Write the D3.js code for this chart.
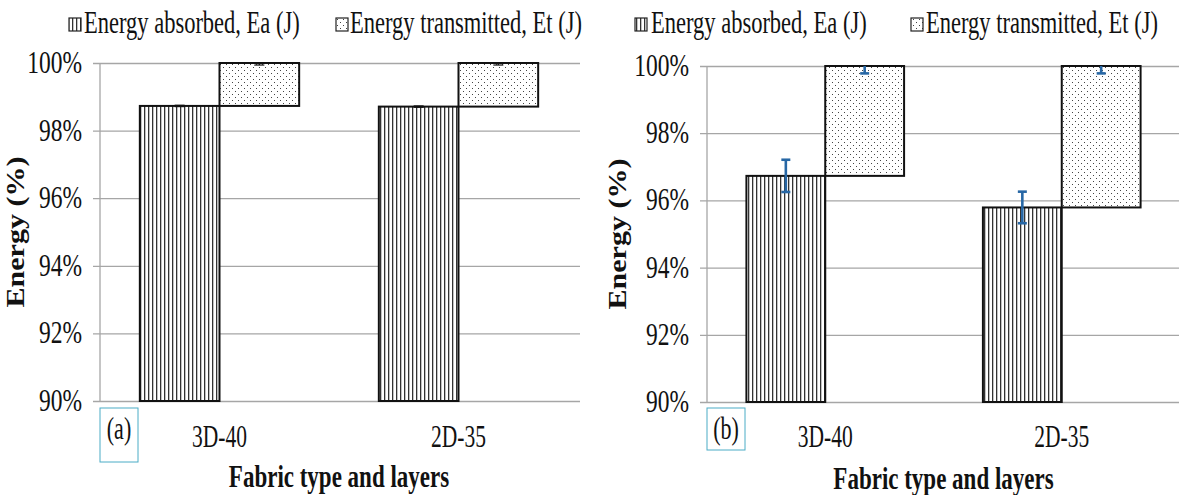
<!DOCTYPE html>
<html>
<head>
<meta charset="utf-8">
<script src="https://cdn.jsdelivr.net/npm/d3@7"></script>
<style>
  body { margin: 0; background: #fff; }
  svg { display: block; }
</style>
</head>
<body>
<svg id="chart" width="1179" height="495"></svg>
<script>
// ---- data ----
const categories = ["3D-40", "2D-35"];
const seriesNames = ["Energy absorbed, Ea (J)", "Energy transmitted, Et (J)"];
const yTickValues = [90, 92, 94, 96, 98, 100];
const xTitle = "Fabric type and layers";
const yTitle = "Energy (%)";

// panel (a)
const absorbedA = [98.73, 98.71];
const transmittedA = [1.27, 1.29];
const absorbedErrA = [0.02, 0.02];
const transmittedErrA = [0.06, 0.06];

// panel (b)
const absorbedB = [96.73, 95.79];
const transmittedB = [3.27, 4.21];
const absorbedErrB = [0.48, 0.47];
const transmittedErrB = [0.22, 0.22];

const SERIF = "'Liberation Serif', 'DejaVu Serif', serif";

const svg = d3.select("#chart");
const defs = svg.append("defs");

// vertical hatch for absorbed energy
const stripes = defs.append("pattern").attr("id", "stripes")
  .attr("patternUnits", "userSpaceOnUse").attr("width", 4).attr("height", 4);
stripes.append("rect").attr("width", 4).attr("height", 4).attr("fill", "#fff");
stripes.append("rect").attr("x", 0).attr("width", 1.3).attr("height", 4).attr("fill", "#333");

// fine dots for transmitted energy
const dots = defs.append("pattern").attr("id", "dots")
  .attr("patternUnits", "userSpaceOnUse").attr("width", 6).attr("height", 6);
dots.append("rect").attr("width", 6).attr("height", 6).attr("fill", "#fff");
dots.append("rect").attr("x", 1).attr("y", 1).attr("width", 1).attr("height", 1).attr("fill", "#444");
dots.append("rect").attr("x", 4).attr("y", 4).attr("width", 1).attr("height", 1).attr("fill", "#444");

const fills = ["url(#stripes)", "url(#dots)"];

// text stretched vertically (serif text in this figure is tall and narrow)
function tallText(g, x, y, str, o) {
  return g.append("text")
    .attr("transform", `translate(${x},${y}) scale(1,${o.sy || 1})` + (o.rotate ? ` rotate(${o.rotate})` : ""))
    .attr("text-anchor", o.anchor || "start")
    .attr("font-family", SERIF)
    .attr("font-size", o.size)
    .attr("font-weight", o.weight || "normal")
    .attr("fill", "#111")
    .text(str);
}

const panels = [
  {
    label: "(a)", absorbed: absorbedA, transmitted: transmittedA,
    absErr: absorbedErrA, trErr: transmittedErrA,
    x0: 100, x1: 578, gridRight: 580, yBottom: 401, yTop: 63,
    errColor: "#111", errWidth: 1.2, cap: 10,
    legend: [{ ix: 69, tx: 84 }, { ix: 336, tx: 350 }], legendY: 33,
    box: [100, 408, 38, 54], titleY: 487, yTitleX: 24
  },
  {
    label: "(b)", absorbed: absorbedB, transmitted: transmittedB,
    absErr: absorbedErrB, trErr: transmittedErrB,
    x0: 707, x1: 1180, gridRight: 1179, yBottom: 402, yTop: 66,
    errColor: "#2767a5", errWidth: 2.6, cap: 9,
    legend: [{ ix: 635, tx: 651 }, { ix: 911, tx: 926 }], legendY: 33,
    box: [707, 408, 38, 42], titleY: 489, yTitleX: 626
  }
];

panels.forEach(p => {
  const g = svg.append("g");
  const y = d3.scaleLinear().domain([90, 100]).range([p.yBottom, p.yTop]);
  const x = d3.scaleBand().domain(categories).range([p.x0, p.x1])
    .paddingInner(1 / 3).paddingOuter(1 / 6);
  const xs = d3.scaleBand().domain(seriesNames).range([0, x.bandwidth()]);

  // gridlines with outside tick marks
  const yAxis = d3.axisLeft(y).tickValues(yTickValues)
    .tickSize(-(p.gridRight - p.x0)).tickFormat(d => d + "%");
  const ag = g.append("g").attr("transform", `translate(${p.x0},0)`).call(yAxis);
  ag.select(".domain").remove();
  ag.selectAll(".tick line").attr("stroke", "#a6a6a6").attr("stroke-width", 1.3)
    .attr("x1", -7);
  ag.selectAll(".tick text").remove();
  // y axis line
  g.append("line").attr("x1", p.x0).attr("x2", p.x0)
    .attr("y1", y(100)).attr("y2", y(90))
    .attr("stroke", "#a6a6a6").attr("stroke-width", 1.3);

  // tick labels
  yTickValues.forEach(v => {
    tallText(g, p.x0 - 18, y(v) + 10, v + "%", { size: 23.5, sy: 1.35, anchor: "end" });
  });

  // bars
  categories.forEach((c, i) => {
    const ea = p.absorbed[i], et = p.transmitted[i];
    const segs = [[90, ea], [ea, ea + et]];
    segs.forEach((s, k) => {
      g.append("rect")
        .attr("x", x(c) + xs(seriesNames[k]))
        .attr("y", y(s[1]))
        .attr("width", xs.bandwidth())
        .attr("height", y(s[0]) - y(s[1]))
        .attr("fill", fills[k])
        .attr("stroke", "#111").attr("stroke-width", 2);
    });
  });

  // error bars, clipped to the axis range
  categories.forEach((c, i) => {
    const ea = p.absorbed[i], et = p.transmitted[i];
    const items = [[ea, p.absErr[i], 0], [ea + et, p.trErr[i], 1]];
    items.forEach(([v, e, k]) => {
      const cx = x(c) + xs(seriesNames[k]) + xs.bandwidth() / 2;
      const lo = v - e, hi = Math.min(100, v + e);
      g.append("line").attr("x1", cx).attr("x2", cx)
        .attr("y1", y(lo)).attr("y2", y(hi))
        .attr("stroke", p.errColor).attr("stroke-width", p.errWidth);
      const caps = [lo];
      if (v + e <= 100) caps.push(v + e);
      caps.forEach(cv => {
        g.append("line").attr("x1", cx - p.cap / 2).attr("x2", cx + p.cap / 2)
          .attr("y1", y(cv)).attr("y2", y(cv))
          .attr("stroke", p.errColor).attr("stroke-width", p.errWidth);
      });
    });
  });

  // category labels
  categories.forEach(c => {
    tallText(g, x(c) + x.bandwidth() / 2, 447, c, { size: 21.5, sy: 1.45, anchor: "middle" });
  });

  // panel tag box
  g.append("rect").attr("x", p.box[0]).attr("y", p.box[1])
    .attr("width", p.box[2]).attr("height", p.box[3])
    .attr("fill", "none").attr("stroke", "#4bacc6").attr("stroke-width", 1);
  tallText(g, p.box[0] + p.box[2] / 2, 439, p.label, { size: 22, sy: 1.4, anchor: "middle" });

  // axis titles
  tallText(g, (p.x0 + p.x1) / 2, p.titleY, xTitle, { size: 23, sy: 1.35, anchor: "middle", weight: "bold" });
  tallText(g, p.yTitleX, (p.yTop + p.yBottom) / 2, yTitle,
    { size: 25, sy: 1.2, anchor: "middle", weight: "bold", rotate: -90 });

  // legend
  seriesNames.forEach((s, k) => {
    const L = p.legend[k];
    g.append("rect").attr("x", L.ix).attr("y", p.legendY - 15)
      .attr("width", 12).attr("height", 13)
      .attr("fill", fills[k]).attr("stroke", "#222").attr("stroke-width", 1.2);
    tallText(g, L.tx, p.legendY, s, { size: 22.5, sy: 1.4 });
  });
});
</script>
</body>
</html>
